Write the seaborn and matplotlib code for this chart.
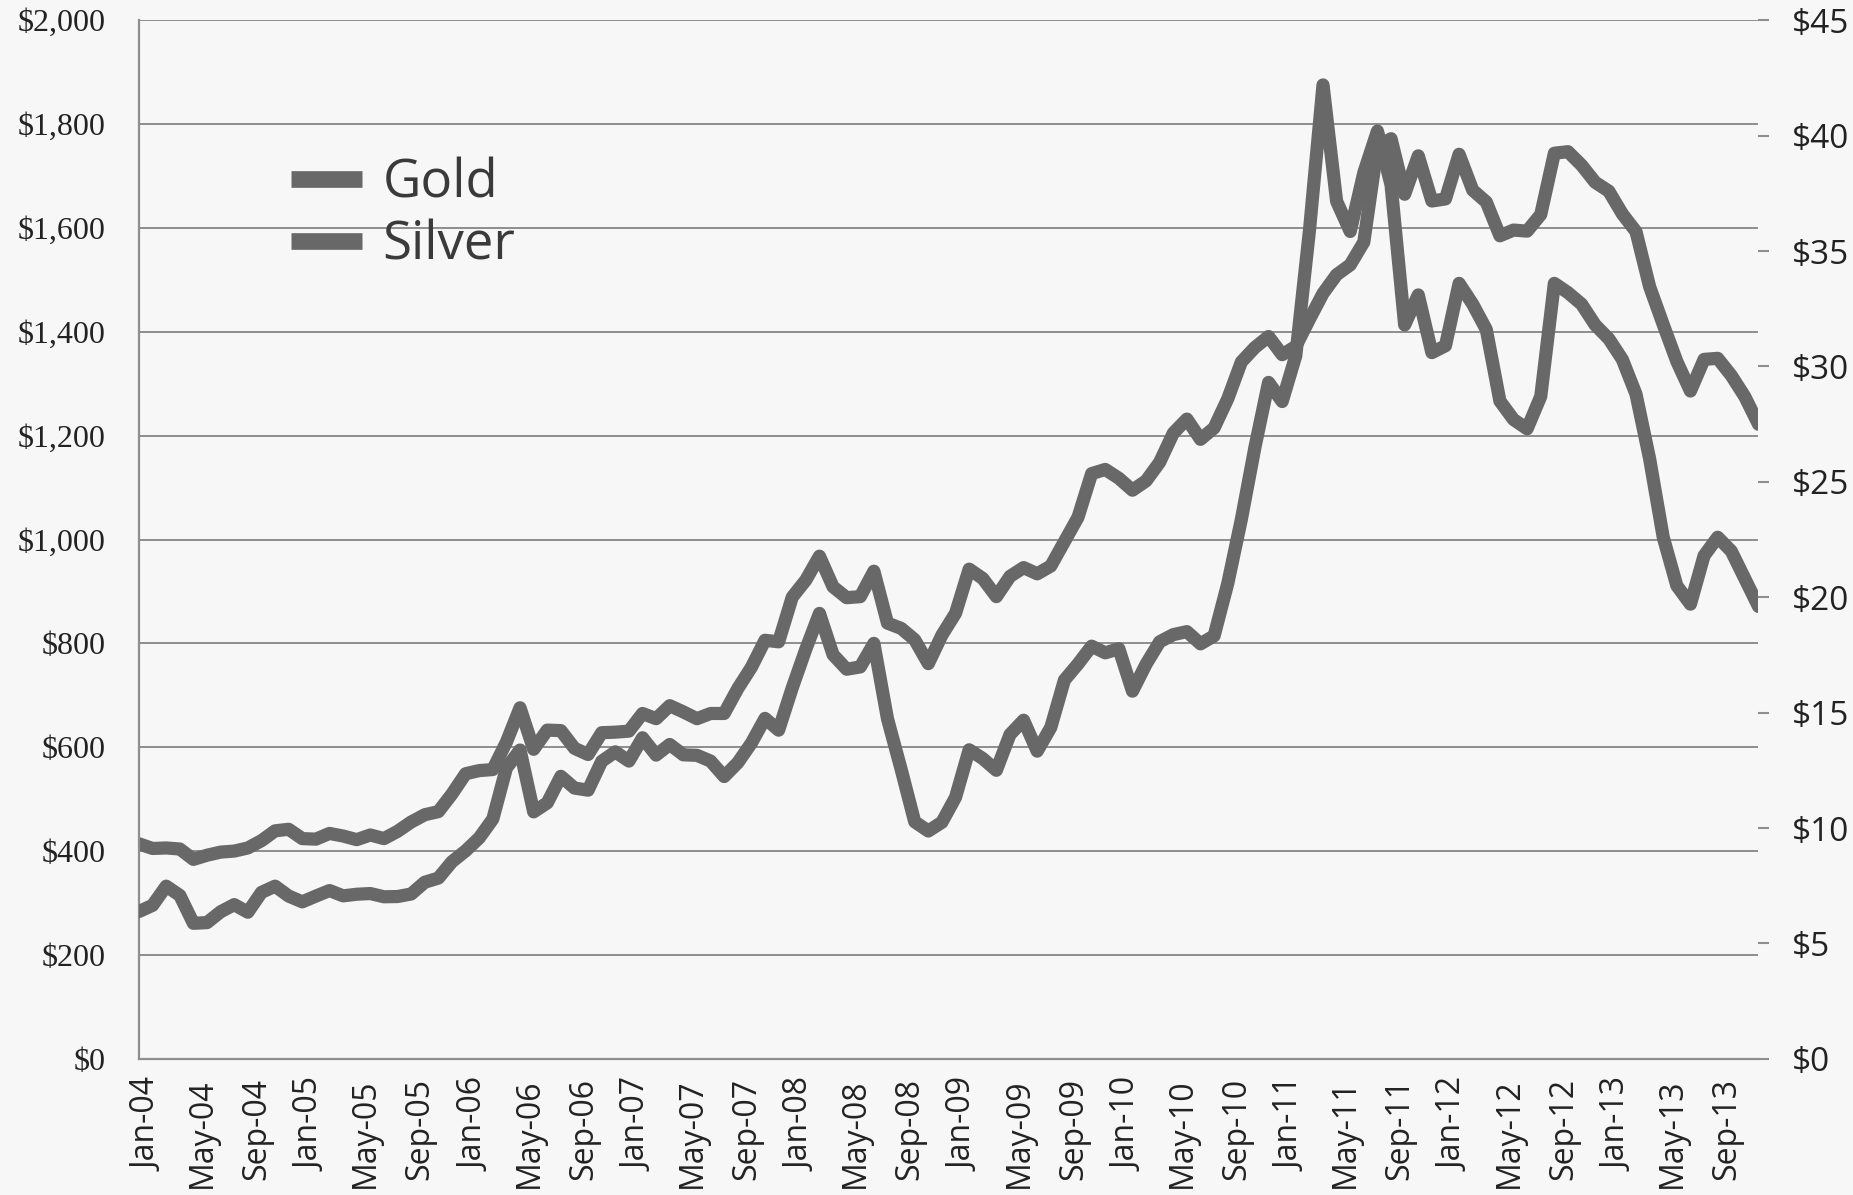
import numpy as np
import pandas as pd
import matplotlib
matplotlib.use('Agg')
import matplotlib.pyplot as plt
import matplotlib.transforms as mtransforms
import seaborn as sns

# Monthly average prices, Jan-04 .. Dec-13
months = pd.date_range('2004-01-01', '2013-12-01', freq='MS')
gold = [
    414, 405, 406, 404, 384, 392, 398, 400, 406, 420, 439, 442,
    424, 423, 434, 429, 422, 431, 424, 438, 456, 470, 476, 510,
    549, 555, 557, 610, 676, 596, 633, 632, 598, 586, 628, 629,
    631, 665, 655, 680, 668, 655, 665, 665, 713, 754, 806, 803,
    889, 922, 968, 909, 888, 890, 939, 839, 829, 807, 761, 816,
    858, 943, 925, 890, 929, 946, 934, 949, 996, 1043, 1127, 1135,
    1118, 1095, 1113, 1149, 1205, 1232, 1193, 1215, 1271, 1342, 1370, 1391,
    1356, 1372, 1424, 1474, 1510, 1529, 1573, 1756, 1772, 1665, 1739, 1652,
    1656, 1742, 1673, 1650, 1585, 1596, 1594, 1626, 1744, 1747, 1721, 1688,
    1671, 1627, 1593, 1487, 1414, 1343, 1286, 1347, 1349, 1316, 1275, 1222,
]
silver = [
    6.38, 6.65, 7.48, 7.08, 5.87, 5.90, 6.37, 6.68, 6.35, 7.21, 7.48, 7.05,
    6.80, 7.05, 7.29, 7.06, 7.13, 7.16, 7.02, 7.03, 7.14, 7.65, 7.83, 8.54,
    9.01, 9.57, 10.39, 12.60, 13.38, 10.70, 11.09, 12.24, 11.73, 11.64, 12.89, 13.30,
    12.90, 13.91, 13.16, 13.62, 13.17, 13.15, 12.90, 12.23, 12.83, 13.68, 14.75, 14.24,
    16.07, 17.75, 19.30, 17.51, 16.88, 16.98, 18.00, 14.73, 12.55, 10.27, 9.87, 10.25,
    11.33, 13.39, 13.01, 12.50, 14.05, 14.67, 13.33, 14.36, 16.41, 17.11, 17.88, 17.59,
    17.77, 15.93, 17.10, 18.07, 18.38, 18.51, 17.98, 18.33, 20.59, 23.37, 26.50, 29.31,
    28.48, 30.46, 35.86, 42.20, 37.16, 35.85, 38.40, 40.20, 37.87, 31.80, 33.10, 30.60,
    30.90, 33.60, 32.70, 31.60, 28.50, 27.70, 27.30, 28.70, 33.60, 33.20, 32.70, 31.80,
    31.20, 30.30, 28.80, 26.00, 22.60, 20.50, 19.70, 21.80, 22.60, 22.00, 20.80, 19.60,
]
gold_ticks = list(range(0, 2001, 200))
silver_ticks = list(range(0, 46, 5))
month_labels = [m.strftime('%b-%y') for m in months]

df = pd.DataFrame({'idx': np.arange(len(months)), 'Gold': gold, 'Silver': silver})

bg = '#f7f7f7'
line_color = '#686868'
grid_color = '#8e8e8e'

sns.set_theme(style='white')
plt.rcParams['font.family'] = ['Open Sans', 'DejaVu Sans']

fig = plt.figure(figsize=(18.53, 11.95), dpi=100, facecolor=bg)
ax = fig.add_axes([0.075, 0.114, 0.874, 0.869])
ax.set_facecolor(bg)

sns.lineplot(data=df, x='idx', y='Gold', ax=ax, color=line_color, linewidth=9.5, legend=False)
ax2 = ax.twinx()
sns.lineplot(data=df, x='idx', y='Silver', ax=ax2, color=line_color, linewidth=9.5, legend=False)

ax.set_xlim(0, len(months) - 1)
ax.set_ylim(0, 2000)
ax2.set_ylim(0, 45)

# left axis
ax.set_yticks(gold_ticks)
ax.set_yticklabels([f'${v:,}' for v in gold_ticks])
ax.tick_params(axis='y', length=0, pad=24, labelsize=23, labelcolor='#222222')
for t in ax.get_yticklabels():
    t.set_fontfamily('Liberation Serif')
ax.yaxis.grid(True, color=grid_color, linewidth=1.4)
ax.xaxis.grid(False)
ax.set_axisbelow(True)

# bottom axis
ax.set_xticks(df['idx'][::4])
ax.set_xticklabels(month_labels[::4], rotation=90)
ax.tick_params(axis='x', length=0, pad=14, labelsize=23, labelcolor='#222222')
shift = mtransforms.ScaledTranslation(9 / 100, 0, fig.dpi_scale_trans)
for t in ax.get_xticklabels():
    t.set_transform(t.get_transform() + shift)
ax.set_xlabel('')
ax.set_ylabel('')

# right axis
ax2.set_yticks(silver_ticks)
ax2.set_yticklabels([f'${v}' for v in silver_ticks])
ax2.tick_params(axis='y', right=True, length=8, width=1.5, color=grid_color,
                pad=16, labelsize=24, labelcolor='#222222')
ax2.set_ylabel('')
ax2.grid(False)

for s in ['top', 'right']:
    ax.spines[s].set_visible(False)
for s in ax2.spines.values():
    s.set_visible(False)
for s in ['left', 'bottom']:
    ax.spines[s].set_color(grid_color)
    ax.spines[s].set_linewidth(1.6)

handles = [ax.get_lines()[0], ax2.get_lines()[0]]
leg = ax2.legend(handles, ['Gold', 'Silver'], loc='upper left',
                 bbox_to_anchor=(0.094, 0.868), frameon=False, fontsize=38,
                 handlelength=1.35, handletextpad=0.38, labelspacing=0.15,
                 borderpad=0, borderaxespad=0)
for line in leg.get_lines():
    line.set_linewidth(12)
    line.set_solid_capstyle('butt')
for t in leg.get_texts():
    t.set_color('#3a3a3a')

fig.savefig('out.png', dpi=100, facecolor=bg)
